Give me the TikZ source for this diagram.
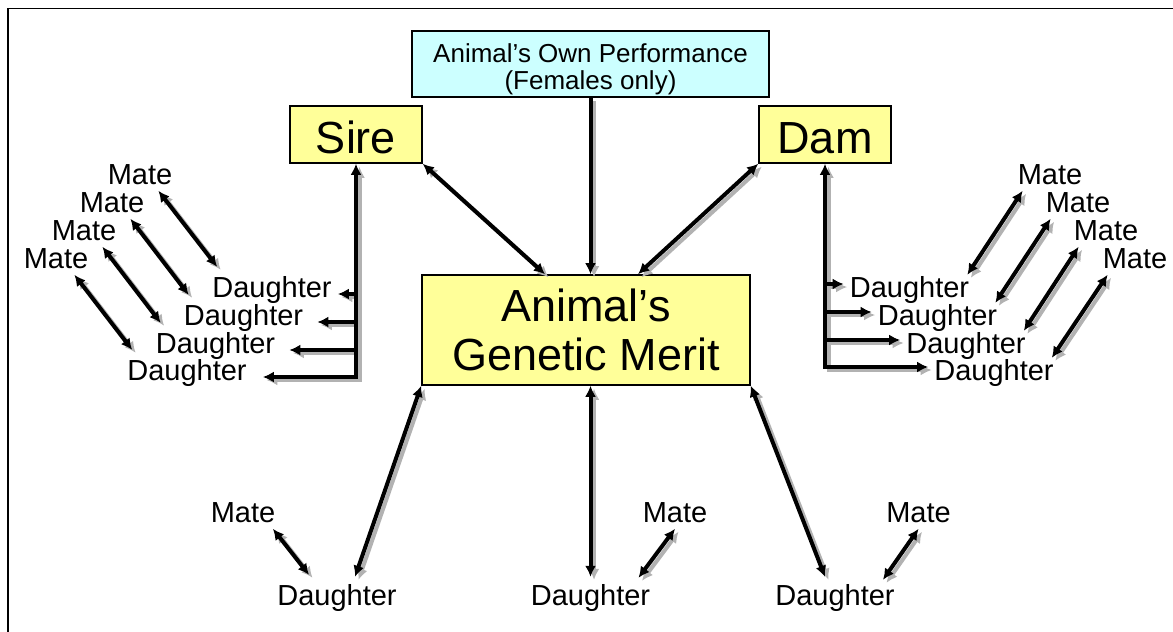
\documentclass[tikz,border=0pt]{standalone}
\usepackage{fontspec}
\setmainfont{Liberation Sans}
\usetikzlibrary{arrows.meta}
\definecolor{boxyellow}{HTML}{FFFF99}
\definecolor{boxcyan}{HTML}{CCFFFF}
\tikzset{
	box/.style={draw, line width=1.6pt, fill=boxyellow, inner sep=0pt},
	word/.style={inner sep=2pt, font=\fontsize{29}{32}\selectfont},
	link/.style={line width=4pt, >={Latex[length=11pt,width=11pt]},
		preaction={draw=gray!60, line width=4pt, transform canvas={shift={(3.5pt,-3pt)}}}}
}
\begin{document}
\begin{tikzpicture}[x=1pt,y=-1pt]
		\useasboundingbox (0,0) rectangle (1173,632);
		\draw[line width=1.6pt] (8,650) -- (8,8.5) -- (1190,8.5);
		%
		\node (perf)[box, fill=boxcyan, minimum width=357pt, minimum height=66pt, align=center, font=\fontsize{26}{27}\selectfont] at (590.5,64) {\rule{0pt}{29pt}Animal's Own Performance\\(Females only)};
		\node (sire)[box, minimum width=132pt, minimum height=57pt, text height=37pt, text depth=0pt, font=\fontsize{45}{49}\selectfont] at (356,134.5) {Sire};
		\node (dam)[box, minimum width=132pt, minimum height=57pt, text height=37pt, text depth=0pt, font=\fontsize{45}{49}\selectfont] at (825,134.5) {Dam};
		\node (merit)[box, minimum width=328pt, minimum height=110pt, align=center, font=\fontsize{45}{49}\selectfont] at (586,330) {Animal's\\Genetic Merit};
		%
		\node (sm1)[word] at (140,174.5) {Mate};
		\node (sm2)[word] at (112,202.5) {Mate};
		\node (sm3)[word] at (84,230.5) {Mate};
		\node (sm4)[word] at (56,258.5) {Mate};
		\node (sd1)[word] at (272,289.5) {Daughter};
		\node (sd2)[word] at (243.5,317.5) {Daughter};
		\node (sd3)[word] at (215.5,345.5) {Daughter};
		\node (sd4)[word] at (187,372.5) {Daughter};
		%
		\node (dm1)[word] at (1050,174.5) {Mate};
		\node (dm2)[word] at (1078,202.5) {Mate};
		\node (dm3)[word] at (1106,230.5) {Mate};
		\node (dm4)[word] at (1135,258.5) {Mate};
		\node (dd1)[word] at (909.5,289.5) {Daughter};
		\node (dd2)[word] at (937.5,317.5) {Daughter};
		\node (dd3)[word] at (966,345.5) {Daughter};
		\node (dd4)[word] at (994,372.5) {Daughter};
		%
		\node (bm1)[word] at (243,512.5) {Mate};
		\node (bm2)[word] at (675,512.5) {Mate};
		\node (bm3)[word] at (918.5,512.5) {Mate};
		\node (bd1)[word] at (337,597.5) {Daughter};
		\node (bd2)[word] at (590.5,597.5) {Daughter};
		\node (bd3)[word] at (835,597.5) {Daughter};
		%
		\draw[link,->] (perf.south) -- (perf.south |- merit.north);
		\draw[link,<->] (sire.south east) -- ([xshift=-41pt]merit.north);
		\draw[link,<->] (dam.south west) -- ([xshift=52pt]merit.north);
		\draw[link,<->] (merit.south west) -- ([xshift=18pt,yshift=5pt]bd1.north);
		\draw[link,<->] (bd2.north |- merit.south) -- ([yshift=5pt]bd2.north);
		\draw[link,<->] (merit.south east) -- ([xshift=-10pt,yshift=5pt]bd3.north);
		\draw[link,<->] ([xshift=-4.5pt,yshift=-4pt]bm1.south east) -- ([xshift=-28pt,yshift=7pt]bd1.north);
		\draw[link,<->] ([yshift=-4pt]bm2.south) -- ([xshift=48pt,yshift=4pt]bd2.north);
		\draw[link,<->] ([yshift=-4pt]bm3.south) -- ([xshift=48pt,yshift=2pt]bd3.north);
		%
		\coordinate (st1) at ([xshift=4pt,yshift=-4.5pt]sd1.east);
		\coordinate (st2) at ([xshift=12pt,yshift=-4.5pt]sd2.east);
		\coordinate (st3) at ([xshift=12pt,yshift=-4.5pt]sd3.east);
		\coordinate (st4) at ([xshift=14pt,yshift=-4.5pt]sd4.east);
		\draw[link,->] (sire.south |- st1) -- (st1);
		\draw[link,->] (sire.south |- st2) -- (st2);
		\draw[link,->] (sire.south |- st3) -- (st3);
		\draw[link,<->] (sire.south) |- (st4);
		\draw[link,<->] ([xshift=-16pt,yshift=-4pt]sm1.south east) -- ([xshift=7pt,yshift=7pt]sd1.north west);
		\draw[link,<->] ([xshift=-16pt,yshift=-4pt]sm2.south east) -- ([xshift=7pt,yshift=7pt]sd2.north west);
		\draw[link,<->] ([xshift=-16pt,yshift=-4pt]sm3.south east) -- ([xshift=7pt,yshift=7pt]sd3.north west);
		\draw[link,<->] ([xshift=-16pt,yshift=-4pt]sm4.south east) -- ([xshift=7pt,yshift=7pt]sd4.north west);
		%
		\coordinate (dt1) at ([xshift=-4pt,yshift=5.5pt]dd1.west);
		\coordinate (dt2) at ([xshift=-4pt,yshift=5.5pt]dd2.west);
		\coordinate (dt3) at ([xshift=-4pt,yshift=5.5pt]dd3.west);
		\coordinate (dt4) at ([xshift=-4pt,yshift=5.5pt]dd4.west);
		\draw[link,<->] (dam.south) |- (dt4);
		\draw[link,->] (dam.south |- dt1) -- (dt1);
		\draw[link,->] (dam.south |- dt2) -- (dt2);
		\draw[link,->] (dam.south |- dt3) -- (dt3);
		\draw[link,<->] ([xshift=7pt,yshift=-4pt]dm1.south west) -- ([xshift=-4pt,yshift=-1pt]dd1.north east);
		\draw[link,<->] ([xshift=7pt,yshift=-4pt]dm2.south west) -- ([xshift=-4pt,yshift=-1pt]dd2.north east);
		\draw[link,<->] ([xshift=7pt,yshift=-4pt]dm3.south west) -- ([xshift=-4pt,yshift=-1pt]dd3.north east);
		\draw[link,<->] ([xshift=7pt,yshift=-4pt]dm4.south west) -- ([xshift=-4pt,yshift=-1pt]dd4.north east);
	\end{tikzpicture}
\end{document}
